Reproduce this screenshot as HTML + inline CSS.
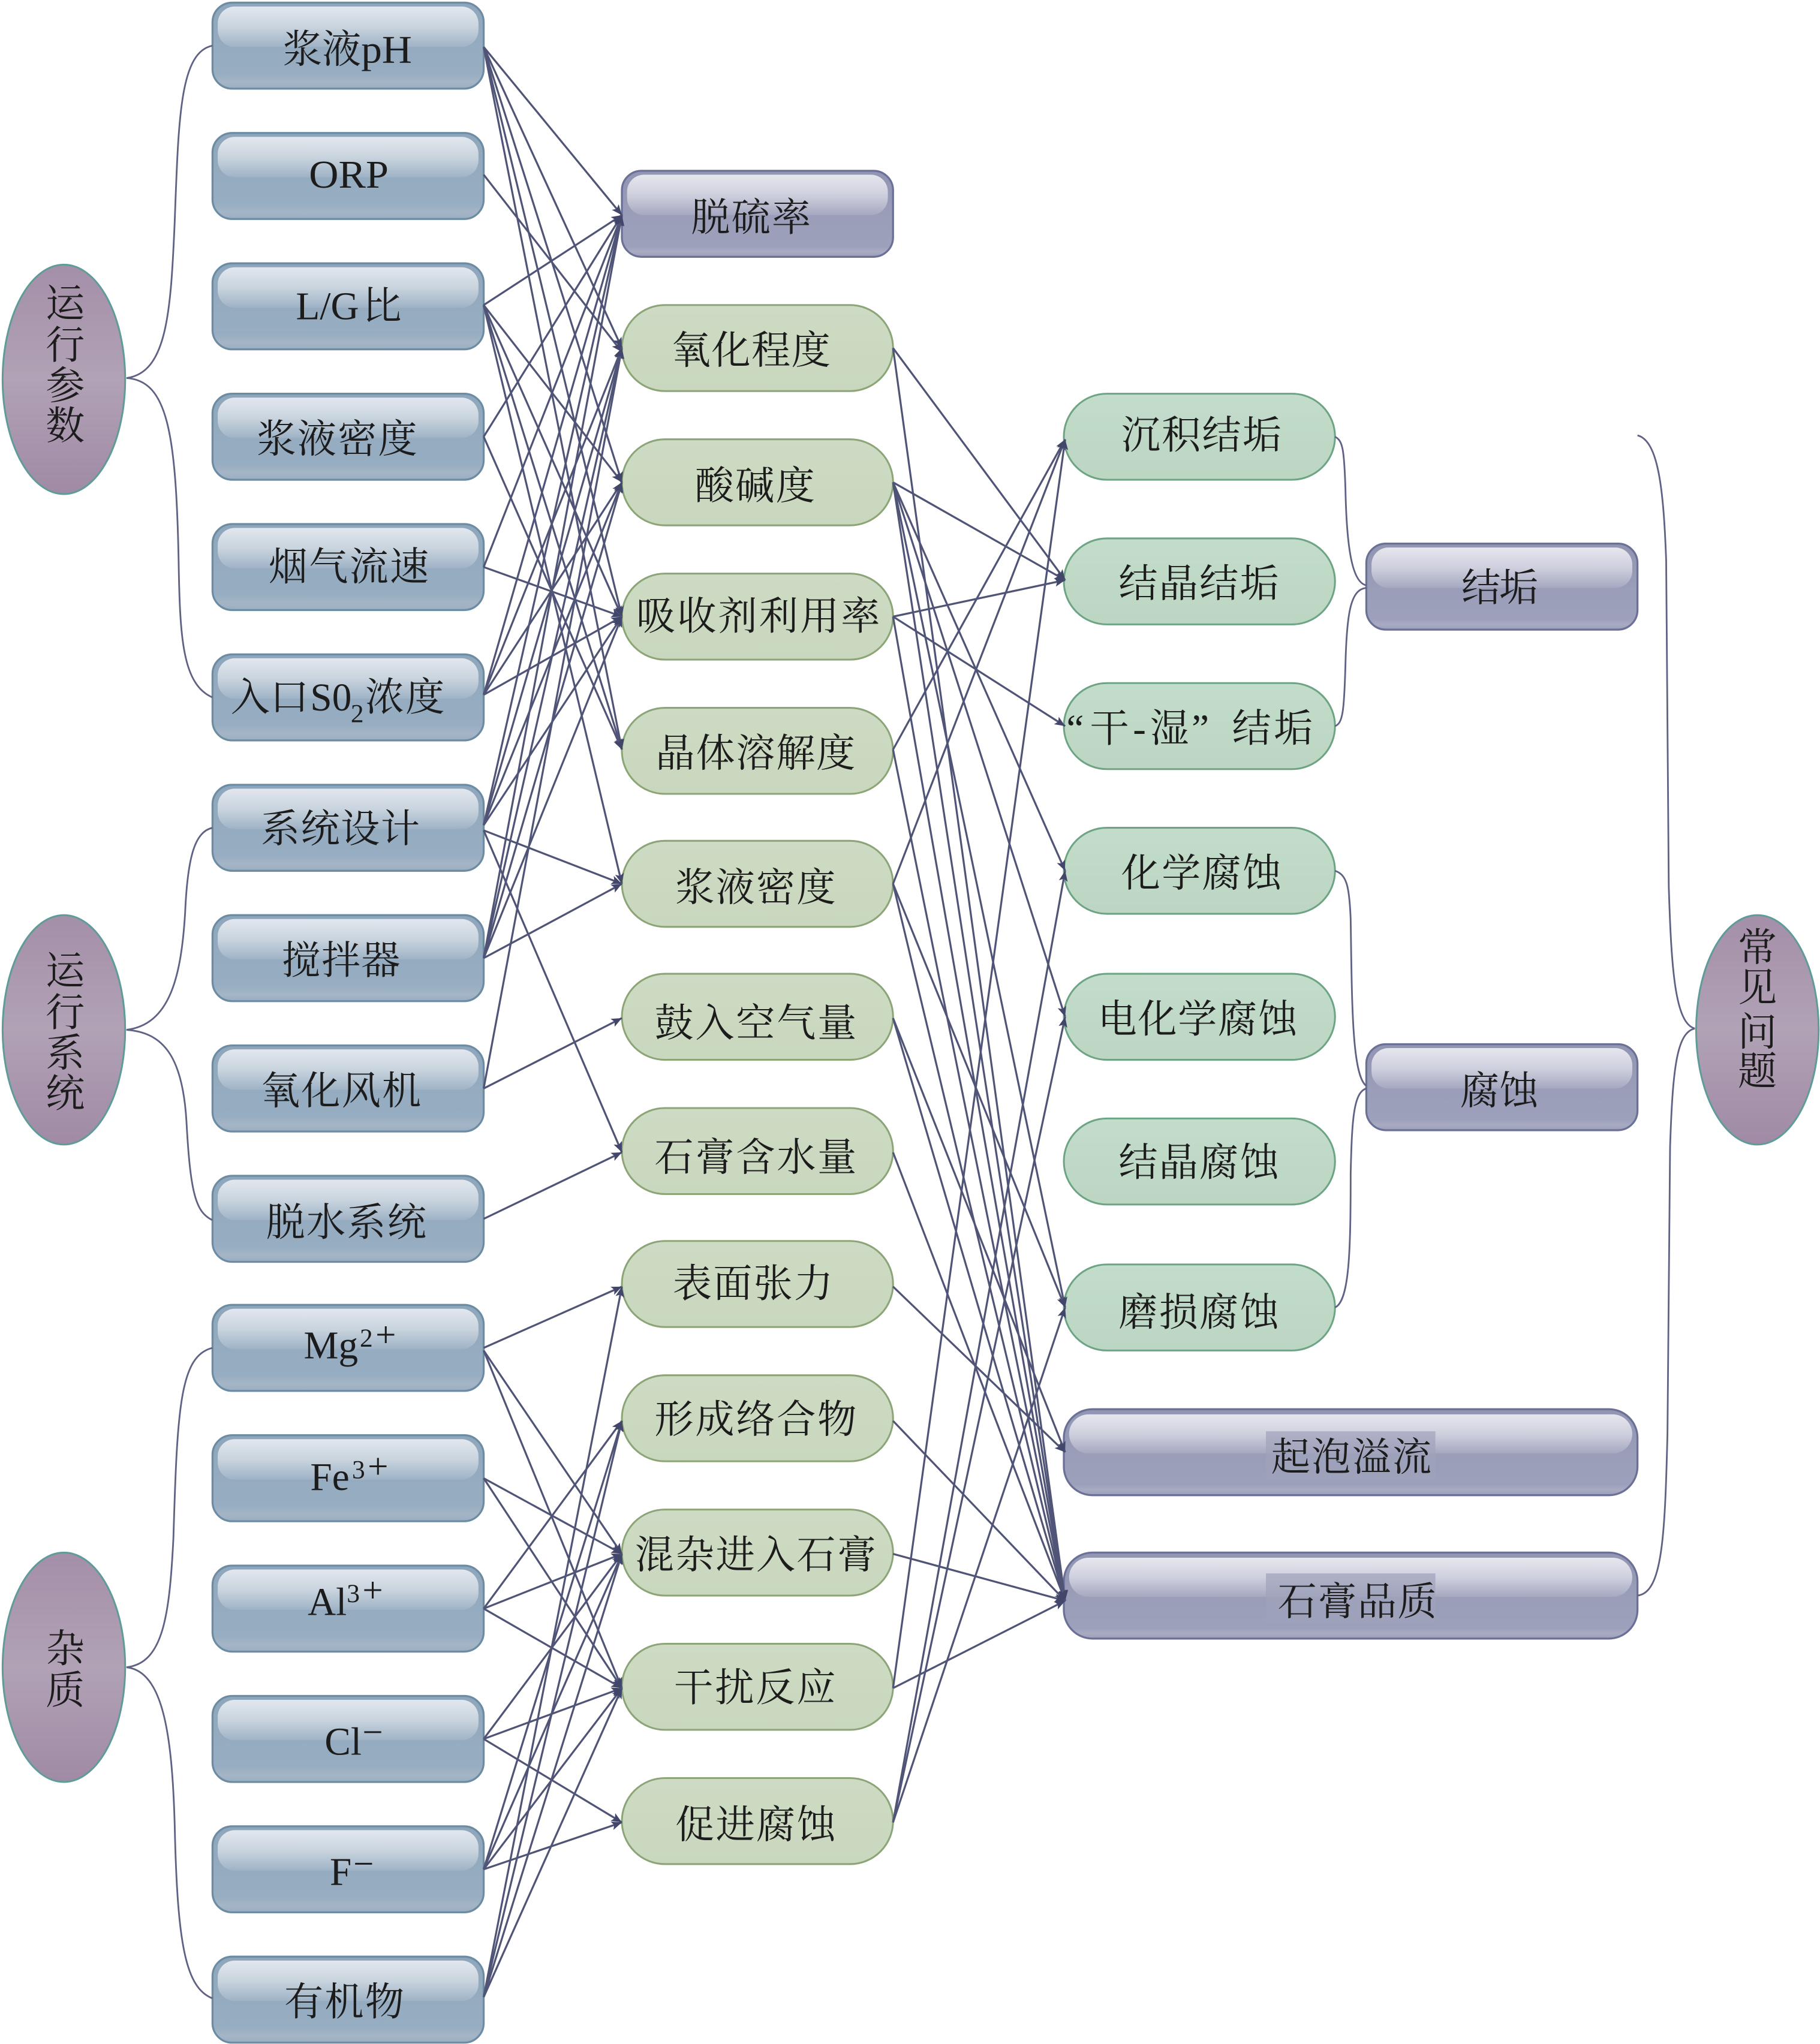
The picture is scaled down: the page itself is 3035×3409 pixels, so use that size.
<!DOCTYPE html>
<html lang="zh">
<head>
<meta charset="utf-8">
<title>Diagram</title>
<style>
html,body{margin:0;padding:0;background:#fff}
svg{display:block}
text{font-family:"Liberation Serif","Noto Serif CJK SC",serif;font-size:30px;fill:#1c1c1c}
.e path{fill:none;stroke:#505476;stroke-width:1.5;marker-end:url(#a)}
.b path{fill:none;stroke:#5f6284;stroke-width:1.3}
.s{font-size:20px}
.p{font-size:28px}
.v{text-anchor:middle}
</style>
</head>
<body>
<svg xmlns="http://www.w3.org/2000/svg" width="3035" height="3409" viewBox="0 0 1396 1568">
<defs>
<marker id="a" markerUnits="userSpaceOnUse" markerWidth="9" markerHeight="9" refX="8" refY="4" orient="auto"><path d="M0 .6L8 4L0 7.4L1.8 4Z" fill="#41466a"/></marker>
<linearGradient id="bl" x1="0" y1="0" x2="0" y2="1"><stop offset="0" stop-color="#8ea6bb"/><stop offset=".5" stop-color="#95abbf"/><stop offset=".82" stop-color="#97adc1"/><stop offset=".92" stop-color="#a4b5c6"/><stop offset="1" stop-color="#9aafc2"/></linearGradient>
<linearGradient id="bh" x1="0" y1="0" x2="0" y2="1"><stop offset="0" stop-color="#e2e7ee"/><stop offset=".5" stop-color="#c9d4de"/><stop offset="1" stop-color="#9fb3c6"/></linearGradient>
<linearGradient id="pu" x1="0" y1="0" x2="0" y2="1"><stop offset="0" stop-color="#9295b2"/><stop offset=".55" stop-color="#9a9eb9"/><stop offset=".88" stop-color="#9ca0ba"/><stop offset=".94" stop-color="#a8abc2"/><stop offset="1" stop-color="#9a9eb9"/></linearGradient>
<linearGradient id="ph" x1="0" y1="0" x2="0" y2="1"><stop offset="0" stop-color="#e6e6ee"/><stop offset=".5" stop-color="#cfd0de"/><stop offset="1" stop-color="#a5a8c0"/></linearGradient>
<linearGradient id="gr" x1="0" y1="0" x2="0" y2="1"><stop offset="0" stop-color="#cedbc4"/><stop offset="1" stop-color="#c8d7bd"/></linearGradient>
<linearGradient id="gt" x1="0" y1="0" x2="0" y2="1"><stop offset="0" stop-color="#c3dccb"/><stop offset="1" stop-color="#bcd6c3"/></linearGradient>
<linearGradient id="el" x1="0" y1="0" x2="0" y2="1"><stop offset="0" stop-color="#a48fa8"/><stop offset=".5" stop-color="#b1a2b6"/><stop offset="1" stop-color="#a08aa5"/></linearGradient>
<g id="B"><rect x="0" y="0" width="208" height="66" rx="15" fill="url(#bl)" stroke="#6c8ca4" stroke-width="1.5"/><rect x="4" y="3" width="200" height="31" rx="13" fill="url(#bh)"/></g>
<g id="P"><rect x="0" y="0" width="208" height="66" rx="15" fill="url(#pu)" stroke="#6b7096" stroke-width="1.5"/><rect x="4" y="3" width="200" height="31" rx="13" fill="url(#ph)"/></g>
<g id="W"><rect x="0" y="0" width="440" height="66" rx="22" fill="url(#pu)" stroke="#6b7096" stroke-width="1.5"/><rect x="4" y="4" width="432" height="30" rx="15" fill="url(#ph)"/></g>
<rect id="G" x="0" y="0" width="208" height="66" rx="33" fill="url(#gr)" stroke="#8ba577" stroke-width="1.4"/>
<rect id="T" x="0" y="0" width="208" height="66" rx="33" fill="url(#gt)" stroke="#6da584" stroke-width="1.4"/>
<ellipse id="E" cx="47" cy="88" rx="47" ry="88" fill="url(#el)" stroke="#5f9c98" stroke-width="1.4"/>
</defs>
<rect width="1396" height="1568" fill="#fff"/>

<!-- column 1 -->
<use href="#B" x="163" y="2"/><use href="#B" x="163" y="102"/><use href="#B" x="163" y="202"/><use href="#B" x="163" y="302"/>
<use href="#B" x="163" y="402"/><use href="#B" x="163" y="502"/><use href="#B" x="163" y="602"/><use href="#B" x="163" y="702"/>
<use href="#B" x="163" y="802"/><use href="#B" x="163" y="902"/><use href="#B" x="163" y="1001"/><use href="#B" x="163" y="1101"/>
<use href="#B" x="163" y="1201"/><use href="#B" x="163" y="1301"/><use href="#B" x="163" y="1401"/><use href="#B" x="163" y="1501"/>

<!-- column 2 -->
<use href="#P" x="477" y="131"/>
<use href="#G" x="477" y="234"/><use href="#G" x="477" y="337"/><use href="#G" x="477" y="440"/><use href="#G" x="477" y="543"/>
<use href="#G" x="477" y="645"/><use href="#G" x="477" y="747"/><use href="#G" x="477" y="850"/><use href="#G" x="477" y="952"/>
<use href="#G" x="477" y="1055"/><use href="#G" x="477" y="1158"/><use href="#G" x="477" y="1261"/><use href="#G" x="477" y="1364"/>

<!-- column 3 -->
<use href="#T" x="816" y="302"/><use href="#T" x="816" y="413"/><use href="#T" x="816" y="524"/><use href="#T" x="816" y="635"/>
<use href="#T" x="816" y="747"/><use href="#T" x="816" y="858"/><use href="#T" x="816" y="970"/>

<!-- column 4 -->
<use href="#P" x="1048" y="417"/><use href="#P" x="1048" y="801"/>
<use href="#W" x="816" y="1081"/><use href="#W" x="816" y="1191"/>
<rect x="971" y="1098" width="130" height="38" fill="#9fa3bb" opacity=".7"/>
<rect x="971" y="1207" width="130" height="38" fill="#9ea2ba" opacity=".7"/>

<!-- ellipses -->
<use href="#E" x="2" y="203"/><use href="#E" x="2" y="702"/><use href="#E" x="2" y="1191"/><use href="#E" x="1301" y="702"/>

<!-- braces -->
<g class="b">
<path d="M97 290C128 286 131 240 134 170C137 90 138 40 163 35"/>
<path d="M97 290C128 292 135 330 137 430C138 490 140 525 163 535"/>
<path d="M97 790C130 786 139 750 142 700C144 655 150 638 163 635"/>
<path d="M97 790C125 792 140 810 143 860C146 915 150 930 163 936"/>
<path d="M97 1279C125 1276 130 1240 133 1180C136 1080 138 1040 163 1034"/>
<path d="M97 1279C125 1282 132 1330 134 1400C136 1490 142 1525 163 1533"/>
<path d="M1256 334C1272 338 1276 375 1278 430L1280 680C1282 745 1285 785 1300 789"/>
<path d="M1300 789C1286 792 1283 820 1281 880L1279 1100C1277 1180 1275 1222 1256 1224"/>
<path d="M1024 335C1030 338 1031 345 1032 375C1033 425 1038 447 1048 449"/>
<path d="M1048 451C1036 452 1033 470 1032 510C1031 545 1030 555 1024 557"/>
<path d="M1024 668C1033 671 1035 680 1036 705C1037 770 1037 825 1048 833"/>
<path d="M1048 835C1038 838 1037 860 1036 900C1036 960 1035 998 1024 1003"/>
</g>

<!-- connectors column 1 to column 2 -->
<g class="e">
<path d="M371 36L477 165"/><path d="M371 36L477 267"/><path d="M371 36L477 370"/><path d="M371 36L477 473"/><path d="M371 36L477 575"/>
<path d="M371 134L477 270"/>
<path d="M371 234L477 165"/><path d="M371 234L477 370"/><path d="M371 234L477 473"/><path d="M371 234L477 575"/><path d="M371 234L477 678"/>
<path d="M371 335L477 165"/><path d="M371 335L477 575"/>
<path d="M371 435L477 165"/><path d="M371 435L477 473"/>
<path d="M371 533L477 165"/><path d="M371 533L477 267"/><path d="M371 533L477 370"/><path d="M371 533L477 473"/>
<path d="M371 633L477 165"/><path d="M371 633L477 267"/><path d="M371 633L477 370"/><path d="M371 633L477 473"/><path d="M371 637L477 678"/><path d="M371 637L477 884"/>
<path d="M371 735L477 165"/><path d="M371 735L477 267"/><path d="M371 735L477 370"/><path d="M371 735L477 473"/><path d="M371 735L477 678"/>
<path d="M371 835L477 267"/><path d="M371 835L477 781"/>
<path d="M371 935L477 884"/>
<path d="M371 1034L477 987"/><path d="M371 1036L477 1192"/><path d="M371 1036L477 1295"/>
<path d="M371 1134L477 1192"/><path d="M371 1134L477 1295"/>
<path d="M371 1234L477 1090"/><path d="M371 1234L477 1192"/><path d="M371 1234L477 1295"/>
<path d="M371 1334L477 1192"/><path d="M371 1334L477 1295"/><path d="M371 1334L477 1398"/>
<path d="M371 1434L477 1090"/><path d="M371 1434L477 1192"/><path d="M371 1434L477 1295"/><path d="M371 1434L477 1398"/>
<path d="M371 1532L477 987"/><path d="M371 1532L477 1090"/><path d="M371 1532L477 1192"/><path d="M371 1532L477 1295"/>

<!-- column 2 to column 3 -->
<path d="M685 267L817 445"/><path d="M685 267L817 1228"/>
<path d="M685 370L817 445"/><path d="M685 370L817 668"/><path d="M685 370L817 780"/><path d="M685 370L817 1003"/><path d="M685 370L817 1228"/>
<path d="M685 473L817 445"/><path d="M685 473L817 557"/><path d="M685 473L817 1228"/>
<path d="M685 575L817 337"/><path d="M685 575L817 1228"/>
<path d="M685 678L817 337"/><path d="M685 678L817 1003"/><path d="M685 678L817 1228"/>
<path d="M685 781L817 1114"/><path d="M685 781L817 1228"/>
<path d="M685 884L817 1228"/>
<path d="M685 987L817 1114"/>
<path d="M685 1090L817 1228"/>
<path d="M685 1192L817 1228"/>
<path d="M685 1295L817 1228"/><path d="M685 1295L817 337"/>
<path d="M685 1398L817 668"/><path d="M685 1398L817 780"/><path d="M685 1398L817 1003"/>
</g>

<!-- labels column 1 -->
<text x="217" y="48" textLength="60">浆液</text><text x="277" y="48" textLength="39" lengthAdjust="spacingAndGlyphs">pH</text>
<text x="237" y="144" textLength="61" lengthAdjust="spacingAndGlyphs">ORP</text>
<text x="227" y="245">L/G</text><text x="278" y="245">比</text>
<text x="197" y="347" textLength="123">浆液密度</text>
<text x="206" y="445" textLength="123">烟气流速</text>
<text x="177" y="545" textLength="60">入口</text><text x="238" y="545">S0</text><text x="269" y="554" class="s">2</text><text x="280" y="545" textLength="61">浓度</text>
<text x="200" y="646" textLength="122">系统设计</text>
<text x="216" y="747" textLength="91">搅拌器</text>
<text x="200" y="847" textLength="123">氧化风机</text>
<text x="204" y="948" textLength="123">脱水系统</text>
<text x="233" y="1042">Mg</text><text x="276" y="1033" class="s">2</text><text x="288" y="1033" class="p">+</text>
<text x="238" y="1143">Fe</text><text x="270" y="1134" class="s">3</text><text x="282" y="1134" class="p">+</text>
<text x="236" y="1239">Al</text><text x="266" y="1229" class="s">3</text><text x="278" y="1229" class="p">+</text>
<text x="249" y="1346">Cl</text><text x="278" y="1338" class="p">−</text>
<text x="253" y="1446">F</text><text x="271" y="1439" class="p">−</text>
<text x="218" y="1546" textLength="92">有机物</text>

<!-- labels column 2 -->
<text x="530" y="177" textLength="92">脱硫率</text>
<text x="515" y="279" textLength="122">氧化程度</text>
<text x="533" y="383" textLength="92">酸碱度</text>
<text x="488" y="483" textLength="187">吸收剂利用率</text>
<text x="503" y="588" textLength="153">晶体溶解度</text>
<text x="518" y="691" textLength="123">浆液密度</text>
<text x="502" y="795" textLength="155">鼓入空气量</text>
<text x="502" y="898" textLength="155">石膏含水量</text>
<text x="516" y="995" textLength="123">表面张力</text>
<text x="502" y="1099" textLength="155">形成络合物</text>
<text x="487" y="1203" textLength="185">混杂进入石膏</text>
<text x="517" y="1305" textLength="124">干扰反应</text>
<text x="518" y="1410" textLength="123">促进腐蚀</text>

<!-- labels column 3 -->
<text x="860" y="344" textLength="123">沉积结垢</text>
<text x="858" y="458" textLength="123">结晶结垢</text>
<text x="818" y="569">“</text><text x="836" y="569">干</text><text x="869" y="569">-</text><text x="882" y="569">湿</text><text x="914" y="569">”</text><text x="945" y="569" textLength="62">结垢</text>
<text x="860" y="680" textLength="123">化学腐蚀</text>
<text x="842" y="792" textLength="153">电化学腐蚀</text>
<text x="858" y="902" textLength="123">结晶腐蚀</text>
<text x="858" y="1017" textLength="123">磨损腐蚀</text>

<!-- labels column 4 -->
<text x="1121" y="461" textLength="59">结垢</text>
<text x="1120" y="847" textLength="60">腐蚀</text>
<text x="975" y="1128" textLength="123">起泡溢流</text>
<text x="980" y="1239" textLength="122">石膏品质</text>

<!-- vertical labels -->
<text x="50" y="243" class="v">运</text><text x="50" y="275" class="v">行</text><text x="50" y="306" class="v">参</text><text x="50" y="337" class="v">数</text>
<text x="50" y="755" class="v">运</text><text x="50" y="787" class="v">行</text><text x="50" y="818" class="v">系</text><text x="50" y="849" class="v">统</text>
<text x="50" y="1275" class="v">杂</text><text x="50" y="1307" class="v">质</text>
<text x="1348" y="737" class="v">常</text><text x="1348" y="768" class="v">见</text><text x="1348" y="802" class="v">问</text><text x="1348" y="832" class="v">题</text>
</svg>
</body>
</html>
